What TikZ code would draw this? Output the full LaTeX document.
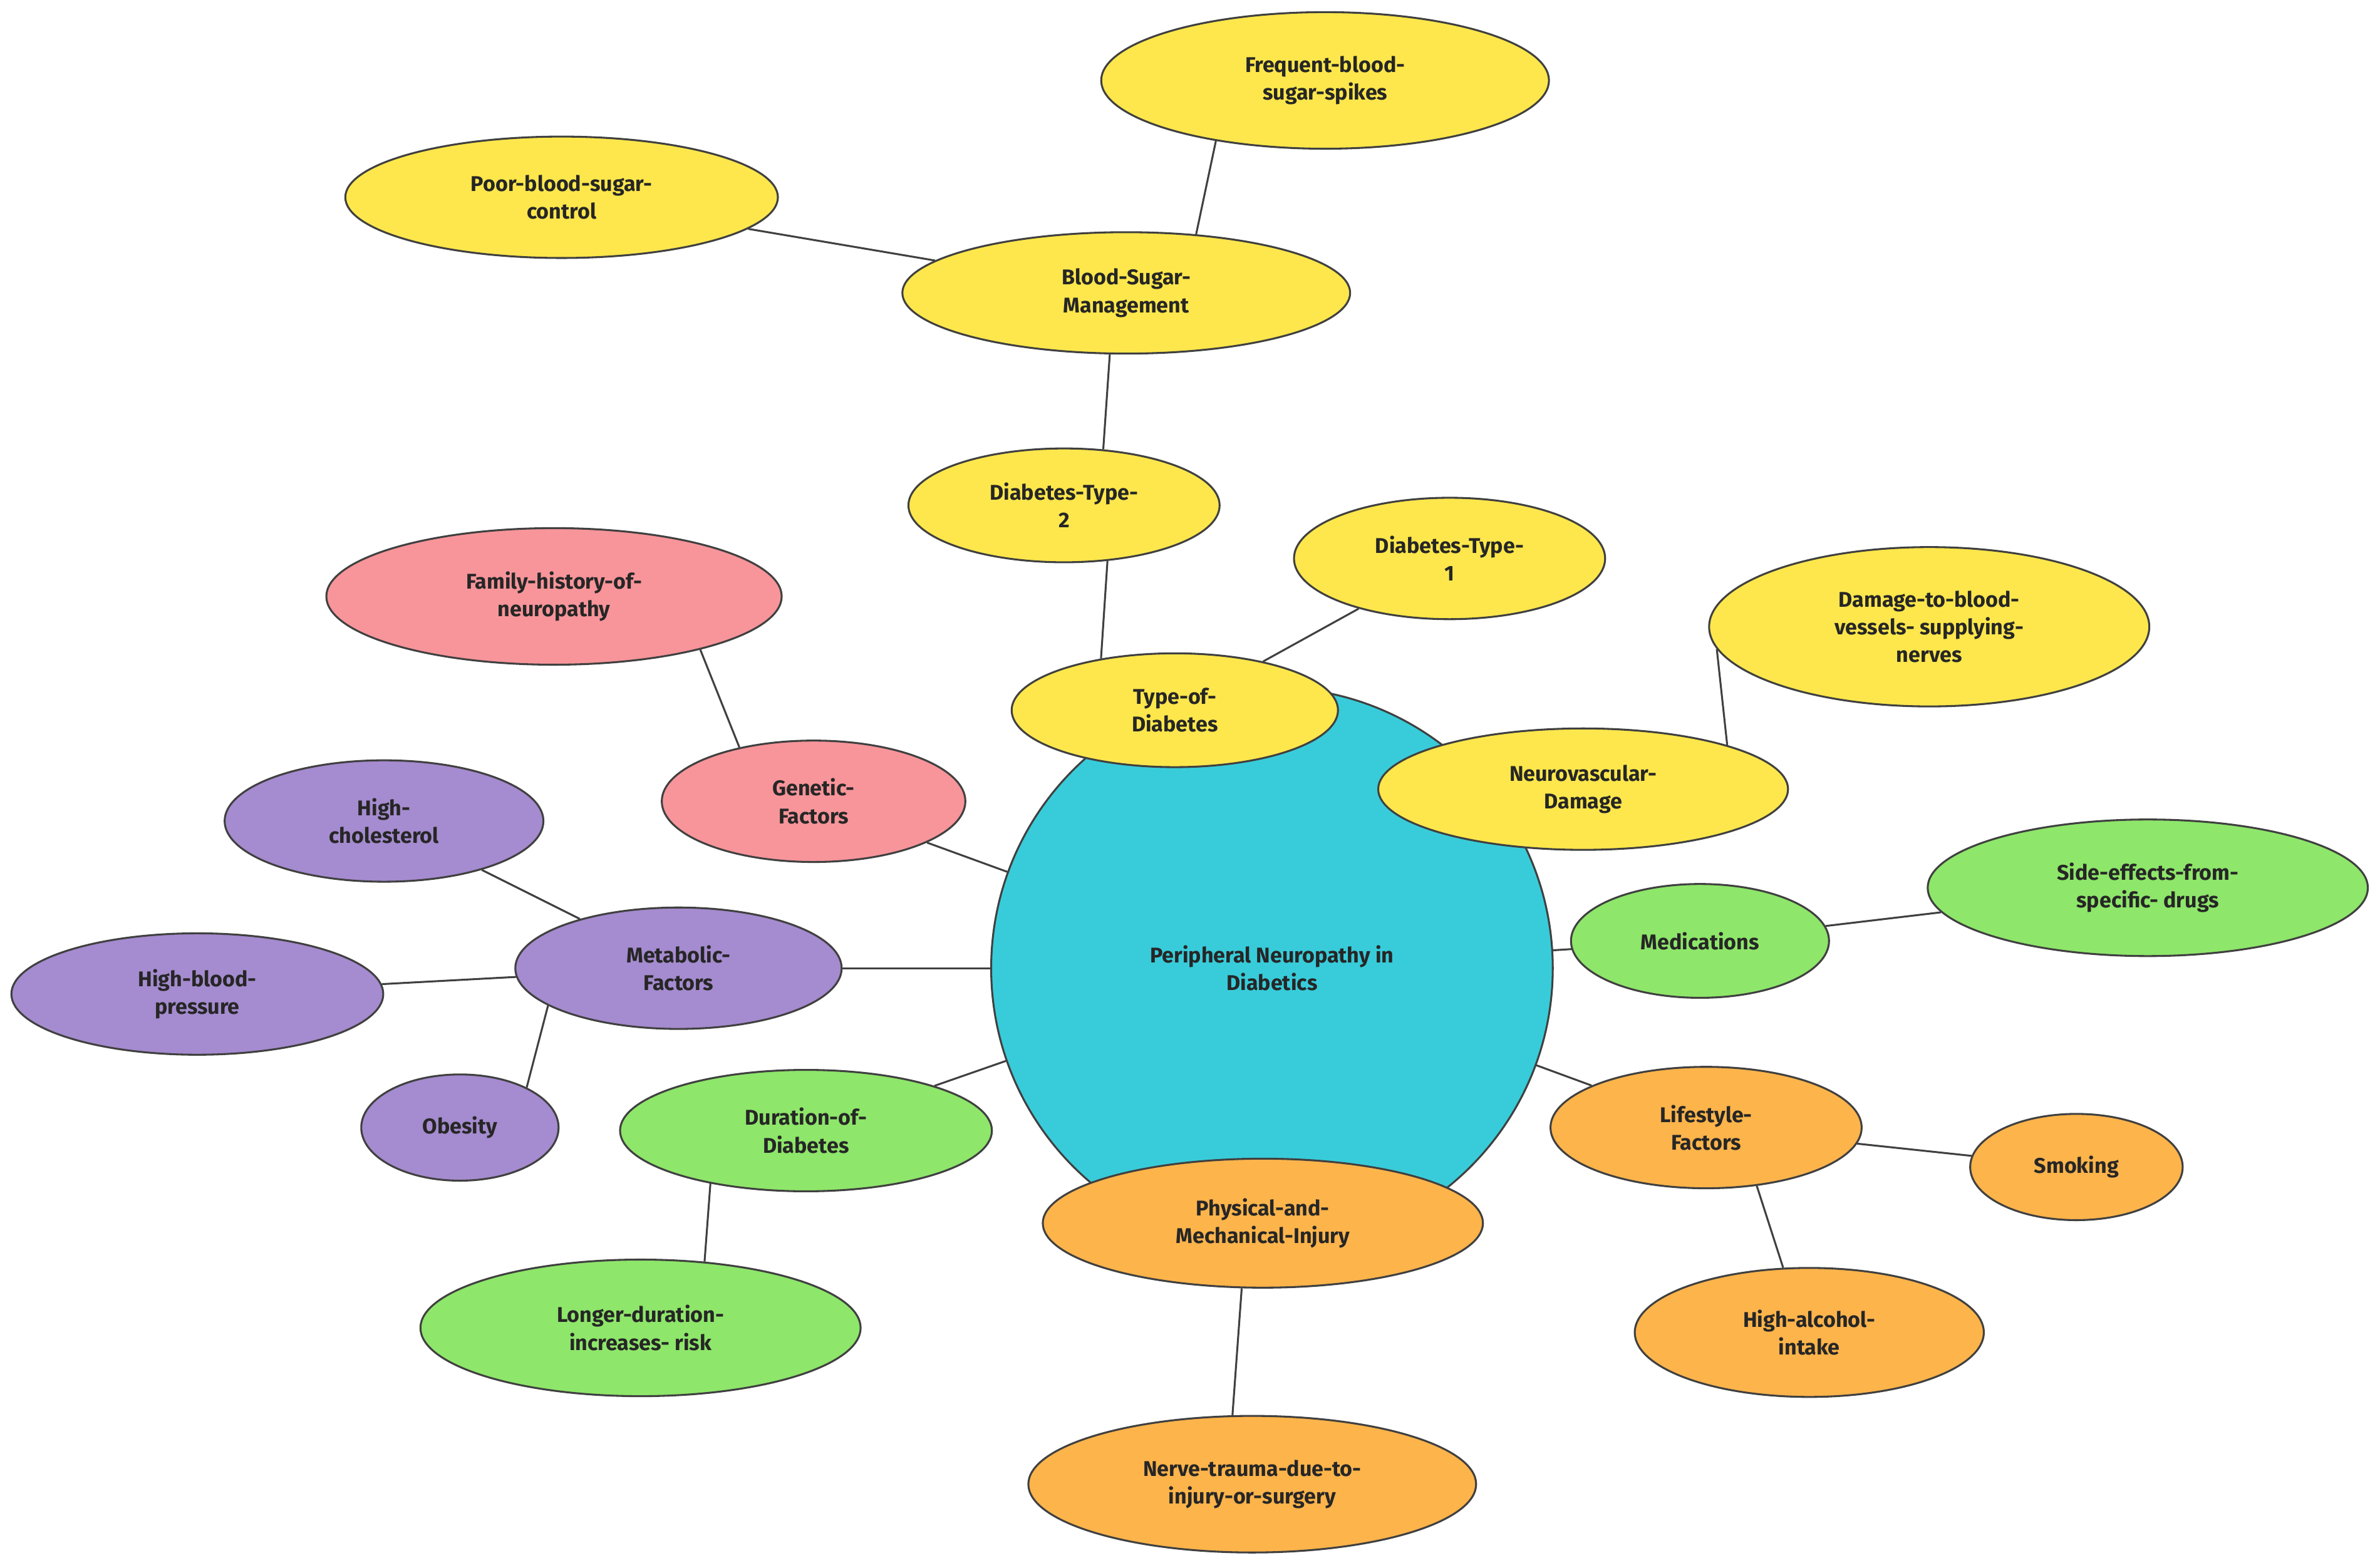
\documentclass[tikz,border=0pt]{standalone}
\usepackage{fontspec}
\setmainfont{Fira Sans}
\usetikzlibrary{shapes.geometric,backgrounds}
\definecolor{cy}{HTML}{38CCDA}
\definecolor{ye}{HTML}{FDE74C}
\definecolor{pk}{HTML}{F7959A}
\definecolor{pu}{HTML}{A58BCF}
\definecolor{gr}{HTML}{8EE66A}
\definecolor{or}{HTML}{FDB44B}
\begin{document}
\begin{tikzpicture}[x=0.025cm,y=-0.025cm,
  el/.style={ellipse,draw=black!75,line width=0.9pt,inner sep=0pt,align=center,font=\fontsize{10}{13}\selectfont\bfseries,text=black!85},
  ed/.style={draw=black!75,line width=0.9pt}]
\useasboundingbox (0,0) rectangle (1568,1033);
\node[el,circle,fill=cy,minimum size=370*0.025cm] (c) at (838,638) {Peripheral Neuropathy in\\Diabetics};
\newcommand\nd[6]{\node[el,fill=#1,minimum width=#4*0.025cm,minimum height=#5*0.025cm] (#2) at #3 {#6};}
\nd{ye}{fr}{(873,53)}{295}{90}{Frequent-blood-\\sugar-spikes}
\nd{ye}{po}{(370,130)}{285}{80}{Poor-blood-sugar-\\control}
\nd{ye}{bs}{(742,193)}{295}{80}{Blood-Sugar-\\Management}
\nd{ye}{t2}{(701,333)}{205}{75}{Diabetes-Type-\\2}
\nd{ye}{t1}{(955,368)}{205}{80}{Diabetes-Type-\\1}
\nd{ye}{ty}{(774,468)}{215}{75}{Type-of-\\Diabetes}
\nd{ye}{dm}{(1271,413)}{290}{105}{Damage-to-blood-\\vessels- supplying-\\nerves}
\nd{ye}{nv}{(1043,520)}{270}{80}{Neurovascular-\\Damage}
\nd{pk}{fh}{(365,393)}{300}{90}{Family-history-of-\\neuropathy}
\nd{pk}{ge}{(536,528)}{200}{80}{Genetic-\\Factors}
\nd{pu}{hc}{(253,541)}{210}{80}{High-\\cholesterol}
\nd{pu}{mf}{(447,638)}{215}{80}{Metabolic-\\Factors}
\nd{pu}{hb}{(130,655)}{245}{80}{High-blood-\\pressure}
\nd{pu}{ob}{(303,743)}{130}{70}{Obesity}
\nd{gr}{du}{(531,745)}{245}{80}{Duration-of-\\Diabetes}
\nd{gr}{lo}{(422,875)}{290}{90}{Longer-duration-\\increases- risk}
\nd{gr}{me}{(1120,620)}{170}{75}{Medications}
\nd{gr}{se}{(1415,585)}{290}{90}{Side-effects-from-\\specific- drugs}
\nd{or}{li}{(1124,743)}{205}{80}{Lifestyle-\\Factors}
\nd{or}{sm}{(1368,769)}{140}{70}{Smoking}
\nd{or}{al}{(1192,878)}{230}{85}{High-alcohol-\\intake}
\nd{or}{ph}{(832,806)}{290}{85}{Physical-and-\\Mechanical-Injury}
\nd{or}{ne}{(825,978)}{295}{90}{Nerve-trauma-due-to-\\injury-or-surgery}
\begin{scope}[on background layer]
\foreach \a/\b in {c/ty,ty/t1,bs/po,c/nv,c/ge,c/mf,mf/hc,mf/hb,c/du,c/me,me/se,c/li,li/sm,c/ph}
  \draw[ed] (\a) -- (\b);
\draw[ed] (fr.209) -- (bs.40);
\draw[ed] (bs.255) -- (t2.55);
\draw[ed] (t2.-52) -- (ty.145);
\draw[ed] (fh.-20) -- (ge.144);
\draw[ed] (mf.196) -- (ob.31);
\draw[ed] (du.209) -- (lo.46);
\draw[ed] (ph.252) -- (ne.106);
\draw[ed] (dm.186) -- (nv.17);
\draw[ed] (li.-49) -- (al.112);
\end{scope}
\end{tikzpicture}
\end{document}
